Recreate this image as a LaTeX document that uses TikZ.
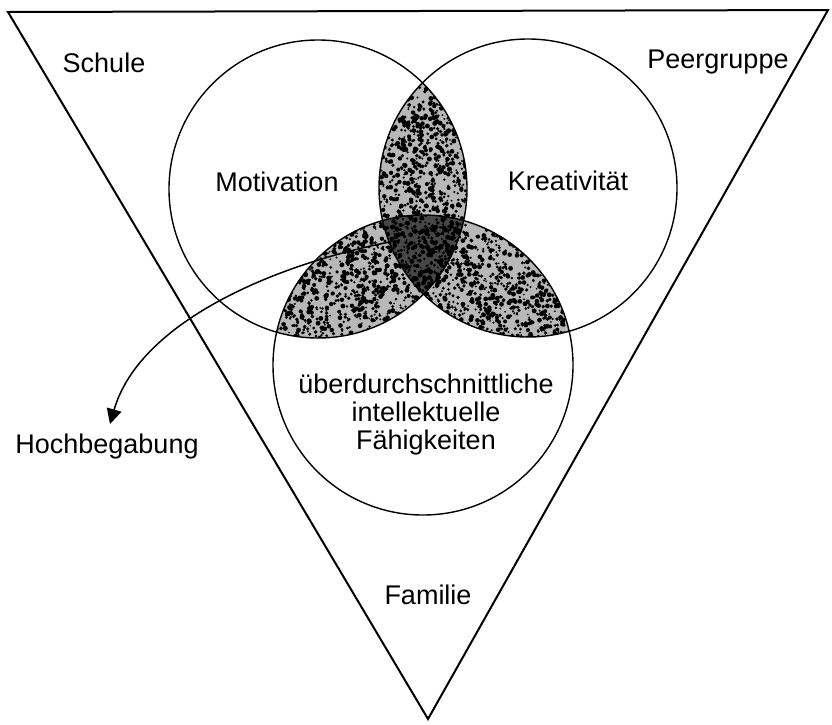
\documentclass[tikz,border=0pt]{standalone}
\usepackage{fontspec}
\setmainfont{Liberation Sans}
\usetikzlibrary{arrows.meta}
\newcommand\speckles[5]{%
  \foreach \k in {1,...,#5}{%
    \pgfmathsetmacro\sx{#1+#3*rand}%
    \pgfmathsetmacro\sy{#2+#4*rand}%
    \pgfmathsetmacro\sr{0.9+1.6*rnd}%
    \fill (\sx,\sy) circle[radius=\sr pt];%
  }}
\begin{document}
\begin{tikzpicture}[x=1pt,y=-1pt,
  lbl/.style={font=\fontsize{27}{28}\selectfont, inner sep=0pt, anchor=base},
  ring/.style={draw=black, line width=1.4pt},
  frame/.style={draw=black, line width=2pt, line join=miter},
  pointer/.style={draw=black, line width=1.5pt, -{Triangle[length=15pt,width=15pt]}}]
\useasboundingbox (0,0) rectangle (832,724);
\pgfmathsetseed{4711}
\coordinate (cL) at (318,189);
\coordinate (cR) at (528,188);
\coordinate (cB) at (423,365);
% pairwise lenses
\begin{scope}
  \clip (cL) circle[radius=149pt]; \clip (cR) circle[radius=149pt];
  \fill[black!28] (370,80) rectangle (480,300);
  \speckles{423}{189}{48}{108}{1150}
\end{scope}
\begin{scope}
  \clip (cL) circle[radius=149pt]; \clip (cB) circle[radius=150pt];
  \fill[black!28] (265,210) rectangle (480,345);
  \speckles{371}{278}{102}{64}{1450}
\end{scope}
\begin{scope}
  \clip (cR) circle[radius=149pt]; \clip (cB) circle[radius=150pt];
  \fill[black!28] (370,210) rectangle (580,345);
  \speckles{475}{278}{102}{64}{1450}
\end{scope}
% triple intersection
\begin{scope}
  \clip (cL) circle[radius=149pt]; \clip (cR) circle[radius=149pt]; \clip (cB) circle[radius=150pt];
  \fill[black!72] (370,210) rectangle (480,300);
  \speckles{423}{255}{48}{42}{600}
\end{scope}
% circles
\draw[ring] (cL) circle[radius=149pt];
\draw[ring] (cR) circle[radius=149pt];
\draw[ring] (cB) circle[radius=150pt];
% triangle
\coordinate (TL) at (8,12);
\coordinate (TR) at (828,10);
\coordinate (TB) at (428,719);
\draw[frame] (TL) -- (TR) -- (TB) -- cycle;
% labels
\node[lbl] (schule) at (104,72) {Schule};
\node[lbl] (peer) at (718,68) {Peergruppe};
\node[lbl] (moti) at (277,191) {Motivation};
\node[lbl] (krea) at (568,190) {Kreativität};
\node[font=\fontsize{27}{28}\selectfont, inner sep=0pt, align=center] (intel) at (426,415)
  {überdurchschnittliche\\intellektuelle\\Fähigkeiten};
\node[lbl] (familie) at (428,604) {Familie};
\node[lbl] (hoch) at (107,453) {Hochbegabung};
% arrow
\coordinate (astart) at (400,240);
\coordinate (atip) at (110,424);
\draw[pointer] (astart) .. controls (280,262) and (140,320) .. (atip);
\end{tikzpicture}
\end{document}
